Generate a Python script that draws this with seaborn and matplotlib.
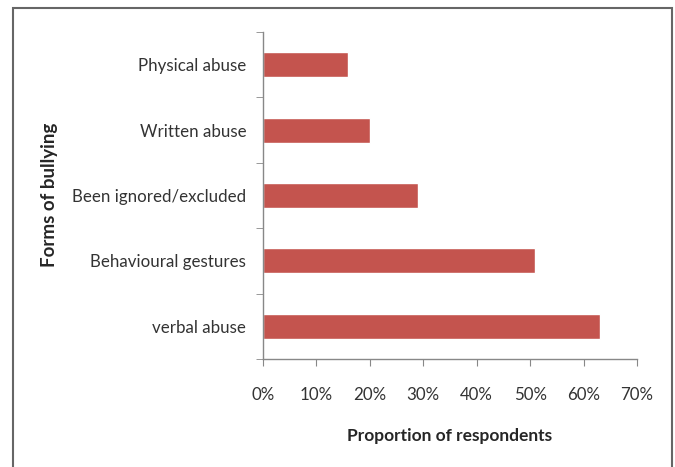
import matplotlib
matplotlib.use("Agg")
import matplotlib.pyplot as plt
from matplotlib.patches import Rectangle
from matplotlib.ticker import PercentFormatter
import seaborn as sns
import pandas as pd
import numpy as np

# forms of bullying, top to bottom
forms = ["Physical abuse", "Written abuse", "Been ignored/excluded",
         "Behavioural gestures", "verbal abuse"]
proportions = [16, 20, 29, 51, 63]
x_ticks = [0, 10, 20, 30, 40, 50, 60, 70]

df = pd.DataFrame({"form": forms, "prop": proportions})

sns.set_style("white")
plt.rcParams["font.family"] = ["Lato", "DejaVu Sans"]

fig = plt.figure(figsize=(6.75, 4.67), dpi=100)
ax = fig.add_axes([263 / 675, 1 - 359 / 467, (637 - 263) / 675, (359 - 32) / 467])

sns.barplot(data=df, x="prop", y="form", order=forms, color="#C4544E",
            width=0.38, saturation=1, ax=ax)

ax.set_xlim(0, 70)
ax.set_ylim(4.5, -0.5)
ax.set_xticks(x_ticks)
ax.xaxis.set_major_formatter(PercentFormatter(decimals=0))
ax.set_yticks(np.arange(len(forms)))
ax.set_yticks(np.arange(len(forms) + 1) - 0.5, minor=True)
ax.tick_params(axis="y", which="major", length=0, pad=12, labelsize=12.2, labelcolor="#333333")
ax.tick_params(axis="y", which="minor", length=5, color="#888888", direction="out", left=True)
ax.tick_params(axis="x", length=5, color="#888888", direction="out", bottom=True,
               labelsize=12.2, labelcolor="#333333", pad=15)

for s in ["top", "right"]:
    ax.spines[s].set_visible(False)
for s in ["left", "bottom"]:
    ax.spines[s].set_color("#888888")
    ax.spines[s].set_linewidth(1)

ax.set_xlabel("Proportion of respondents", fontsize=12.5, fontweight="bold", labelpad=18)
ax.set_ylabel("")
fig.text(50 / 675, 1 - 195 / 467, "Forms of bullying", rotation=90, fontsize=13.5,
         fontweight="bold", ha="center", va="center")

fig.patches.append(Rectangle((13 / 675, -0.02), (672 - 13) / 675, 1 - 8 / 467 + 0.02,
                             transform=fig.transFigure, fill=False,
                             edgecolor="#666666", linewidth=1.5))

fig.savefig("out.png", dpi=100)
